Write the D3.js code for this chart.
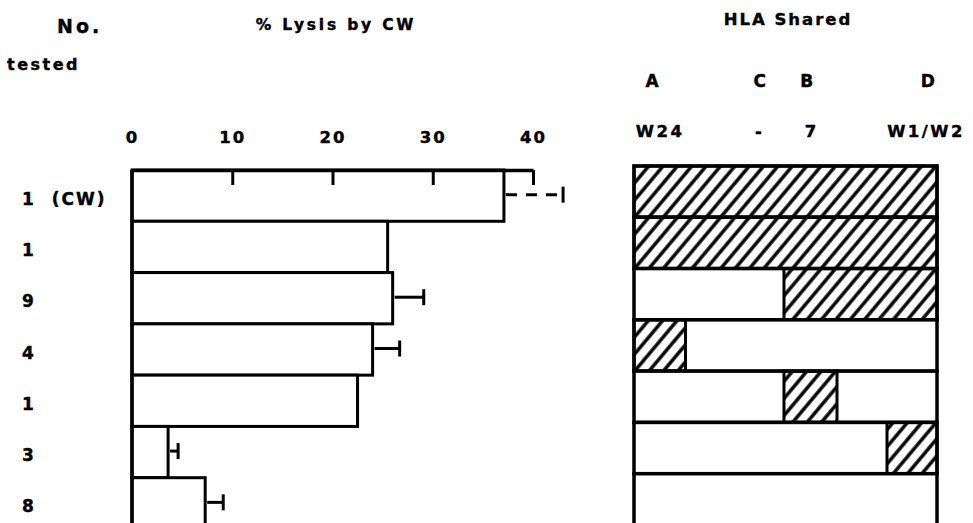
<!DOCTYPE html>
<meta charset="utf-8">
<script src="https://d3js.org/d3.v7.min.js"></script>
<body style="margin:0; background:#fff;">
<div id="chart"></div>
</body>
<script>
    // Data
    var rowLabels = ["1 (CW)", "1", "9", "4", "1", "3", "8"];
    var lysis = [37.1, 25.5, 26.0, 24.0, 22.5, 3.6, 7.3];
    var lysisHi = [43.0, null, 29.1, 26.7, null, 4.6, 9.1];   // upper end of error bar
    var dashedErr = [true, false, false, false, false, false, false];
    var lysisTicks = [0, 10, 20, 30, 40];

    var hlaLoci = ["A", "C", "B", "D"];
    var hlaAlleles = ["W24", "-", "7", "W1/W2"];
    // shared (hatched) stretches of each row, in % of the HLA strip
    var hlaShared = [
        [[0, 100]],
        [[0, 100]],
        [[49.5, 100]],
        [[0, 17]],
        [[49.5, 67]],
        [[83.5, 100]],
        []
    ];

    var width = 973, height = 523;
    var font = "'DejaVu Sans', sans-serif";

    var svg = d3.select("#chart").append("svg")
        .attr("width", width)
        .attr("height", height)
        .style("font-family", font)
        .style("font-weight", "bold");

    var defs = svg.append("defs");
    var pat = defs.append("pattern")
        .attr("id", "hatch")
        .attr("patternUnits", "userSpaceOnUse")
        .attr("width", 11)
        .attr("height", 11)
        .attr("patternTransform", "rotate(40)");
    pat.append("rect").attr("width", 11).attr("height", 11).attr("fill", "#fff");
    pat.append("line")
        .attr("x1", 2).attr("x2", 2).attr("y1", 0).attr("y2", 11)
        .attr("stroke", "#000").attr("stroke-width", 3.4);

    // scales
    var x = d3.scaleLinear().domain([0, 40]).range([132, 533]);
    var y = d3.scaleBand().domain(d3.range(rowLabels.length)).range([0, 359]);
    var xr = d3.scaleLinear().domain([0, 100]).range([634, 937]);

    // headers
    function label(txt, px, py, anchor, size, spacing) {
        svg.append("text")
            .attr("x", px).attr("y", py)
            .attr("text-anchor", anchor || "middle")
            .style("font-size", (size || 15) + "px")
            .style("letter-spacing", (spacing || 2) + "px")
            .style("white-space", "pre")
            .attr("stroke", "#000").attr("stroke-width", 0.4)
            .text(txt);
    }
    label("No.", 57, 33, "start", 19, 3);
    label("tested", 7, 70, "start", 16, 2.5);
    label("% Lysis by CW", 336, 30, "middle", 15.5, 2.8);
    label("HLA Shared", 788, 25, "middle", 16.5, 2);

    // tick labels of lysis axis
    svg.append("g")
        .attr("transform", "translate(0,143)")
        .call(d3.axisTop(x).tickValues(lysisTicks).tickSize(0).tickPadding(0))
        .call(function (g) { g.select(".domain").remove(); })
        .selectAll("text")
        .style("font-family", font)
        .style("font-weight", "bold")
        .style("font-size", "16.5px")
        .style("letter-spacing", "2px")
        .attr("fill", "#000")
        .attr("stroke", "#000").attr("stroke-width", 0.4);

    // left panel: bars
    var left = svg.append("g").attr("transform", "translate(0,170)");

    left.selectAll(".bar")
        .data(lysis)
        .enter()
        .append("rect")
        .attr("class", "bar")
        .attr("x", x(0))
        .attr("y", function (d, i) { return y(i); })
        .attr("width", function (d) { return x(d) - x(0); })
        .attr("height", y.bandwidth())
        .attr("fill", "#fff")
        .attr("stroke", "#000")
        .attr("stroke-width", 3);

    // left axis line running down past the bottom
    left.append("line")
        .attr("x1", x(0)).attr("x2", x(0))
        .attr("y1", 0).attr("y2", 380)
        .attr("stroke", "#000").attr("stroke-width", 3.5);

    // top axis with inward ticks
    var topAxis = left.append("g")
        .call(d3.axisTop(x).tickValues([10, 20, 30, 40]).tickSize(-15).tickSizeOuter(0).tickFormat(""));
    topAxis.selectAll("path, line").attr("stroke", "#000").attr("stroke-width", 3);
    topAxis.select(".domain").attr("stroke-width", 3.5);

    // error bars
    var errs = lysis.map(function (v, i) { return {v: v, hi: lysisHi[i], dashed: dashedErr[i], i: i}; })
        .filter(function (d) { return d.hi != null; });

    var eg = left.selectAll(".err").data(errs).enter().append("g").attr("class", "err");
    eg.append("line")
        .attr("x1", function (d) { return x(d.v) + 2; })
        .attr("x2", function (d) { return x(d.hi); })
        .attr("y1", function (d) { return y(d.i) + y.bandwidth() / 2 - 1; })
        .attr("y2", function (d) { return y(d.i) + y.bandwidth() / 2 - 1; })
        .attr("stroke", "#000")
        .attr("stroke-width", 3)
        .attr("stroke-dasharray", function (d) { return d.dashed ? "11,9" : null; });
    eg.append("line")
        .attr("x1", function (d) { return x(d.hi); })
        .attr("x2", function (d) { return x(d.hi); })
        .attr("y1", function (d) { return y(d.i) + y.bandwidth() / 2 - 9; })
        .attr("y2", function (d) { return y(d.i) + y.bandwidth() / 2 + 7; })
        .attr("stroke", "#000")
        .attr("stroke-width", 3);

    // row labels
    left.selectAll(".rowlab")
        .data(rowLabels)
        .enter()
        .append("text")
        .attr("class", "rowlab")
        .attr("x", 22)
        .attr("y", function (d, i) { return y(i) + y.bandwidth() / 2 + 9; })
        .style("font-size", "17px")
        .style("letter-spacing", "2px")
        .style("white-space", "pre")
        .attr("stroke", "#000").attr("stroke-width", 0.4)
        .text(function (d) { return d.replace(" ", "  "); });

    // right panel: HLA strips
    var locusPos = [6, 41.5, 57, 97];
    var allelePos = [8.6, 41.5, 58.7, 96.4];
    svg.selectAll(".locus")
        .data(hlaLoci)
        .enter()
        .append("text")
        .attr("class", "locus")
        .attr("x", function (d, i) { return xr(locusPos[i]); })
        .attr("y", 87)
        .attr("text-anchor", "middle")
        .style("font-size", "17px")
        .attr("stroke", "#000").attr("stroke-width", 0.4)
        .text(function (d) { return d; });
    svg.selectAll(".allele")
        .data(hlaAlleles)
        .enter()
        .append("text")
        .attr("class", "allele")
        .attr("x", function (d, i) { return xr(allelePos[i]); })
        .attr("y", 137)
        .attr("text-anchor", "middle")
        .style("font-size", "16.5px")
        .style("letter-spacing", "2.5px")
        .attr("stroke", "#000").attr("stroke-width", 0.4)
        .text(function (d) { return d; });

    var right = svg.append("g").attr("transform", "translate(0,166)");

    var rows = right.selectAll(".hrow")
        .data(hlaShared)
        .enter()
        .append("g")
        .attr("class", "hrow");

    rows.append("rect")
        .attr("x", xr(0))
        .attr("y", function (d, i) { return y(i); })
        .attr("width", xr(100) - xr(0))
        .attr("height", y.bandwidth())
        .attr("fill", "#fff");

    rows.each(function (segs, i) {
        d3.select(this).selectAll(".seg")
            .data(segs)
            .enter()
            .append("rect")
            .attr("class", "seg")
            .attr("x", function (s) { return xr(s[0]); })
            .attr("y", y(i))
            .attr("width", function (s) { return xr(s[1]) - xr(s[0]); })
            .attr("height", y.bandwidth())
            .attr("fill", "url(#hatch)")
            .attr("stroke", "#000")
            .attr("stroke-width", 3);
    });

    rows.append("rect")
        .attr("x", xr(0))
        .attr("y", function (d, i) { return y(i); })
        .attr("width", xr(100) - xr(0))
        .attr("height", y.bandwidth())
        .attr("fill", "none")
        .attr("stroke", "#000")
        .attr("stroke-width", 3.5);
</script>
